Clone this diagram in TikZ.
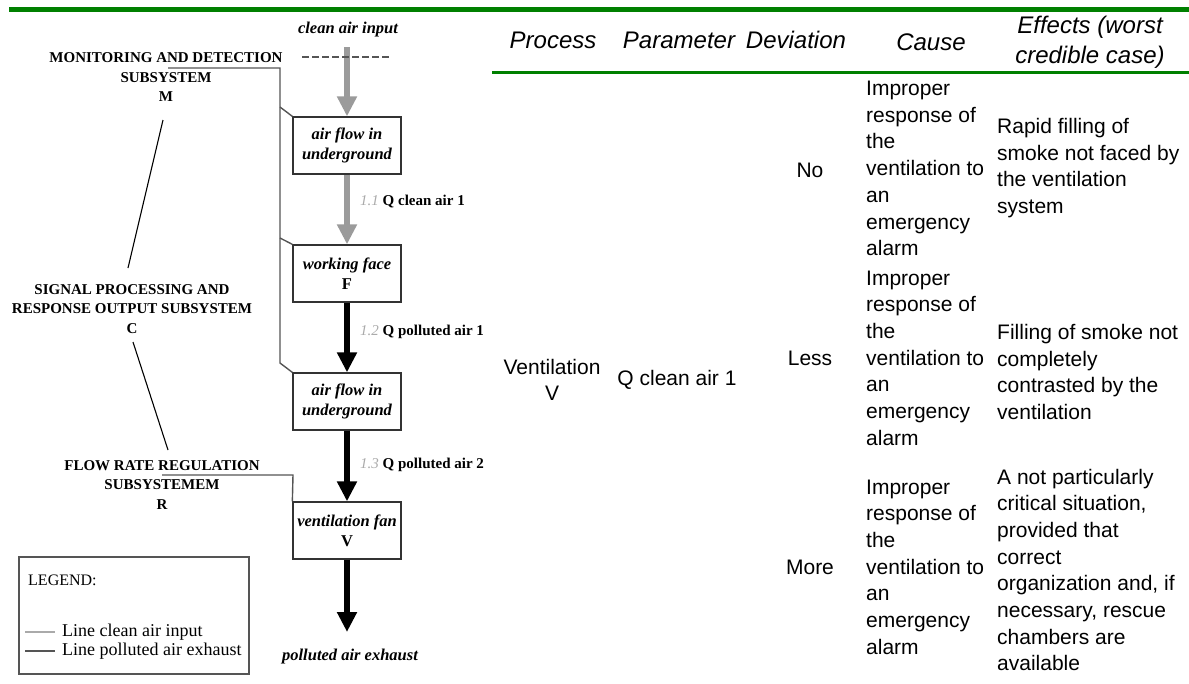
\documentclass[tikz,border=0pt]{standalone}
\usepackage{fontspec}
\setmainfont{Liberation Serif}
\newfontfamily\arialfont{Liberation Sans}
\usepackage{tikz}
\usetikzlibrary{arrows.meta}
\definecolor{rulegreen}{RGB}{0,128,0}
\definecolor{cleangray}{RGB}{155,155,155}
\definecolor{wiregray}{RGB}{85,85,85}
\definecolor{numgray}{RGB}{170,170,170}
\newcommand{\flownum}[1]{\textcolor{numgray}{\mdseries\itshape #1}}

\begin{document}
\begin{tikzpicture}
    [
    x=1pt, y=-1pt,
    unit/.style={draw=black!80,line width=1.3pt,minimum width=108pt,minimum height=57pt,inner sep=0pt,align=center,font=\fontsize{16.5}{20}\selectfont\bfseries\itshape},
    subsys/.style={align=center,inner sep=0pt,font=\fontsize{15}{19.5}\selectfont\bfseries},
    flowlabel/.style={anchor=west,inner sep=0pt,font=\fontsize{15}{18}\selectfont\bfseries},
    ends/.style={inner sep=0pt,font=\fontsize{16.5}{20}\selectfont\bfseries\itshape},
    clean/.style={draw=cleangray,line width=6.5pt,-{Triangle[length=20pt,width=19pt]}},
    polluted/.style={draw=black,line width=6.5pt,-{Triangle[length=20pt,width=19pt]}},
    wire/.style={draw=wiregray,line width=1.4pt},
    legtext/.style={anchor=west,inner sep=0pt,font=\fontsize{18}{19}\selectfont},
    head/.style={inner sep=0pt,align=center,font=\arialfont\itshape\fontsize{24}{30}\selectfont},
    cell/.style={inner sep=0pt,align=left,font=\arialfont\fontsize{21}{26.7}\selectfont}
    ]
    \useasboundingbox (0,0) rectangle (1189,683);
    \draw [rulegreen, line width=4.5pt] (9,9.5) -- (1189,9.5);
    \draw [rulegreen, line width=2.5pt] (492,72.5) -- (1189,72.5);

    \node (b1) at (347,145.5) [unit] {air flow in\\underground};
    \node (b2) at (347,273.5) [unit] {working face\\{\upshape F}};
    \node (b3) at (347,401.5) [unit] {air flow in\\underground};
    \node (b4) at (347,530.5) [unit] {ventilation fan\\{\upshape V}};
    \node (inlabel) at (348,30) [ends] {clean air input};
    \node (outlabel) at (350,657) [ends] {polluted air exhaust};
    \coordinate (in) at (347,47);
    \coordinate (out) at (347,632);
    \draw [clean] (in) to (b1);
    \draw [clean] (b1) to (b2);
    \draw [polluted] (b2) to (b3);
    \draw [polluted] (b3) to (b4);
    \draw [polluted] (b4) to (out);
    \draw [wire, line width=1.2pt, dash pattern=on 7pt off 3pt] (302,57) -- (392,57);
    \node (q11) at (360,202) [flowlabel] {\flownum{1.1} Q clean air 1};
    \node (q12) at (360,332) [flowlabel] {\flownum{1.2} Q polluted air 1};
    \node (q13) at (360,465) [flowlabel] {\flownum{1.3} Q polluted air 2};

    \node (mon) at (166,77.5) [subsys] {MONITORING AND DETECTION\\SUBSYSTEM\\M};
    \node (sig) at (132,309) [subsys] {SIGNAL PROCESSING AND\\RESPONSE OUTPUT SUBSYSTEM\\C};
    \node (reg) at (162,485) [subsys] {FLOW RATE REGULATION\\SUBSYSTEMEM\\R};
    \coordinate (mtap) at (168,68);
    \coordinate (bus) at (280,68);
    \coordinate (tap1) at (280,107);
    \coordinate (tap2) at (280,238);
    \coordinate (tap3) at (280,363);
    \coordinate (rtap) at (162,475);
    \coordinate (rbend) at (293,475);
    \draw [wire] (mtap) -- (bus) -- (tap3) -- (b3.north west);
    \draw [wire] (tap1) -- (b1.north west);
    \draw [wire] (tap2) -- (b2.north west);
    \draw [wire] (rtap) -- (rbend) -- (b4.north west);
    \coordinate (ms) at (163,120);
    \coordinate (cn) at (128,268);
    \coordinate (cs) at (133,342);
    \coordinate (rn) at (168,450);
    \draw [line width=1.1pt] (ms) -- (cn);
    \draw [line width=1.1pt] (cs) -- (rn);

    \node (legend) at (18,556) [anchor=north west,draw=wiregray,line width=1.5pt,minimum width=230pt,minimum height=117pt,inner sep=0pt] {};
    \node (legtitle) at (28,580) [legtext,font=\fontsize{16}{19}\selectfont] {LEGEND:};
    \node (legclean) at (62,632) [legtext] {Line clean air input};
    \node (legpoll) at (62,651) [legtext] {Line polluted air exhaust};
    \coordinate (lc) at (25,632);
    \coordinate (lp) at (25,651);
    \draw [draw=numgray, line width=1.2pt, shorten >=7pt] (lc) -- (legclean);
    \draw [draw=wiregray, line width=1.4pt, shorten >=7pt] (lp) -- (legpoll);

    \node (hproc) at (553,40) [head] {Process};
    \node (hpar) at (679,40) [head] {Parameter};
    \node (hdev) at (796,40) [head] {Deviation};
    \node (hcause) at (931,42) [head] {Cause};
    \node (heff) at (1090,42) [head] {Effects (worst\\credible case)};
    \node (proc) at (552,380) [cell,align=center] {Ventilation\\V};
    \node (par) at (677,380) [cell] {Q clean air 1};
    \node (devno) at (810,170) [cell] {No};
    \node (devless) at (810,358) [cell] {Less};
    \node (devmore) at (810,567) [cell] {More};
    \node (cause1) at (866,168.5) [cell,anchor=west] {Improper\\response of\\the\\ventilation to\\an\\emergency\\alarm};
    \node (cause2) at (866,358) [cell,anchor=west] {Improper\\response of\\the\\ventilation to\\an\\emergency\\alarm};
    \node (cause3) at (866,567) [cell,anchor=west] {Improper\\response of\\the\\ventilation to\\an\\emergency\\alarm};
    \node (eff1) at (997,168) [cell,anchor=west] {Rapid filling of\\smoke not faced by\\the ventilation\\system};
    \node (eff2) at (997,372) [cell,anchor=west] {Filling of smoke not\\completely\\contrasted by the\\ventilation};
    \node (eff3) at (997,570) [cell,anchor=west] {A not particularly\\critical situation,\\provided that\\correct\\organization and, if\\necessary, rescue\\chambers are\\available};
  \end{tikzpicture}
\end{document}
